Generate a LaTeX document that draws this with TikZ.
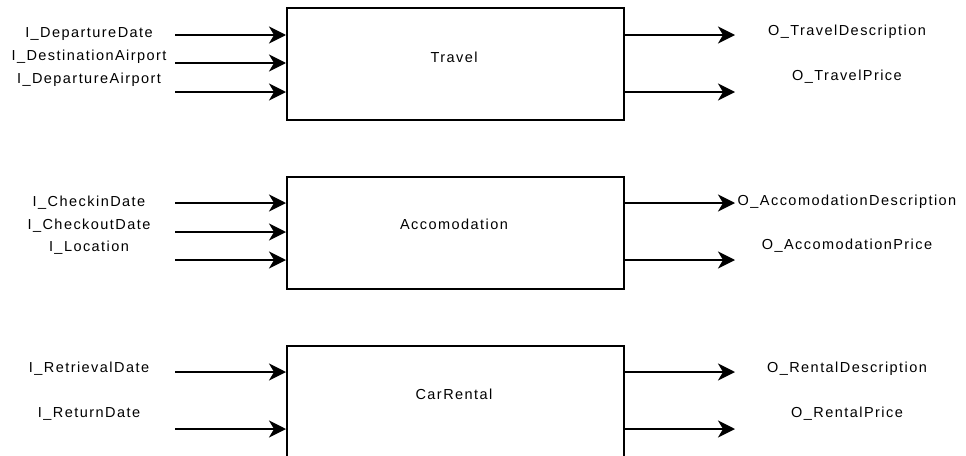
\documentclass[tikz,border=0pt]{standalone}
\usepackage{fontspec}
\setmainfont{Liberation Sans}[LetterSpace=10]
\usetikzlibrary{arrows.meta}
\tikzset{
  blk/.style={draw=black, line width=2pt, fill=white, minimum width=337pt, minimum height=112pt, inner sep=0pt, anchor=north west},
  lbl/.style={font=\fontsize{14.5}{16}\selectfont, inner sep=0pt, anchor=center},
  flow/.style={line width=2pt, -{Stealth[length=17pt, width=17pt, inset=5pt]}}
}
\begin{document}
\begin{tikzpicture}[x=1pt, y=-1pt]
\useasboundingbox (0,0) rectangle (966,455);
\clip (0,0) rectangle (966,455);
% boxes
\node[blk] (T) at (286,7) {};
\node[blk] (A) at (286,176) {};
\node[blk, minimum height=130pt] (C) at (286,345) {};
\node[lbl] (Tl) at (454,57) {Travel};
\node[lbl] (Al) at (454,224) {Accomodation};
\node[lbl] (Cl) at (454,394) {CarRental};
% input labels
\node[lbl] (i1) at (89,34) {I\_DepartureDate};
\node[lbl] (i2) at (89,57) {I\_DestinationAirport};
\node[lbl] (i3) at (89,80) {I\_DepartureAirport};
\node[lbl] (i4) at (89,203) {I\_CheckinDate};
\node[lbl] (i5) at (89,226) {I\_CheckoutDate};
\node[lbl] (i6) at (89,248) {I\_Location};
\node[lbl] (i7) at (89,369) {I\_RetrievalDate};
\node[lbl] (i8) at (89,414) {I\_ReturnDate};
% output labels
\node[lbl] (o1) at (847,32) {O\_TravelDescription};
\node[lbl] (o2) at (847,77) {O\_TravelPrice};
\node[lbl] (o3) at (847,202) {O\_AccomodationDescription};
\node[lbl] (o4) at (847,246) {O\_AccomodationPrice};
\node[lbl] (o5) at (847,369) {O\_RentalDescription};
\node[lbl] (o6) at (847,414) {O\_RentalPrice};
% input arrow starts
\coordinate (s1) at (175,35);
\coordinate (s2) at (175,63);
\coordinate (s3) at (175,92);
\coordinate (s4) at (175,203);
\coordinate (s5) at (175,232);
\coordinate (s6) at (175,260);
\coordinate (s7) at (175,372);
\coordinate (s8) at (175,429);
\draw[flow] (s1) -- (s1 -| T.west);
\draw[flow] (s2) -- (s2 -| T.west);
\draw[flow] (s3) -- (s3 -| T.west);
\draw[flow] (s4) -- (s4 -| A.west);
\draw[flow] (s5) -- (s5 -| A.west);
\draw[flow] (s6) -- (s6 -| A.west);
\draw[flow] (s7) -- (s7 -| C.west);
\draw[flow] (s8) -- (s8 -| C.west);
% output arrow ends
\coordinate (e1) at (735,35);
\coordinate (e2) at (735,92);
\coordinate (e3) at (735,203);
\coordinate (e4) at (735,260);
\coordinate (e5) at (735,372);
\coordinate (e6) at (735,429);
\draw[flow] (e1 -| T.east) -- (e1);
\draw[flow] (e2 -| T.east) -- (e2);
\draw[flow] (e3 -| A.east) -- (e3);
\draw[flow] (e4 -| A.east) -- (e4);
\draw[flow] (e5 -| C.east) -- (e5);
\draw[flow] (e6 -| C.east) -- (e6);
\end{tikzpicture}
\end{document}
